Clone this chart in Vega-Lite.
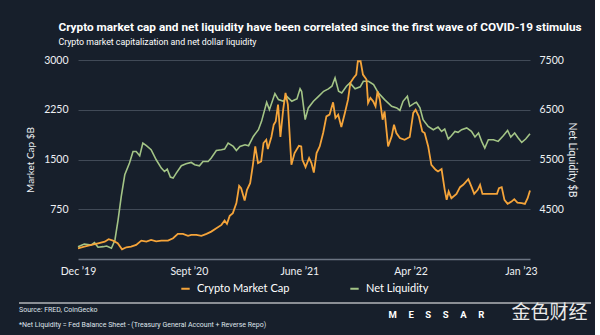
{
  "$schema": "https://vega.github.io/schema/vega-lite/v6.json",
  "background": "#171f2b",
  "padding": {"left": 18, "right": 3, "top": 22, "bottom": 5},
  "spacing": 8,
  "title": {
    "text": "Crypto market cap and net liquidity have been correlated since the first wave of COVID-19 stimulus",
    "subtitle": "Crypto market capitalization and net dollar liquidity",
    "anchor": "start",
    "frame": "bounds",
    "dx": 40,
    "color": "#ffffff",
    "subtitleColor": "#ffffff",
    "font": "Roboto",
    "fontSize": 11.8,
    "fontWeight": "bold",
    "subtitleFont": "Roboto",
    "subtitleFontSize": 8.8,
    "subtitlePadding": 4,
    "offset": 8
  },
  "resolve": {"scale": {"color": "independent"}, "legend": {"color": "independent"}},
  "vconcat": [
    {
      "width": 452,
      "height": 199,
      "data": {
        "values": [
          {"d": "2019-12-01", "s": "Net Liquidity", "v": 3748},
          {"d": "2019-12-17", "s": "Net Liquidity", "v": 3802},
          {"d": "2020-01-04", "s": "Net Liquidity", "v": 3782},
          {"d": "2020-01-12", "s": "Net Liquidity", "v": 3828},
          {"d": "2020-01-21", "s": "Net Liquidity", "v": 3736},
          {"d": "2020-02-03", "s": "Net Liquidity", "v": 3748},
          {"d": "2020-02-12", "s": "Net Liquidity", "v": 3762},
          {"d": "2020-02-24", "s": "Net Liquidity", "v": 3716},
          {"d": "2020-03-04", "s": "Net Liquidity", "v": 3883},
          {"d": "2020-03-12", "s": "Net Liquidity", "v": 4286},
          {"d": "2020-03-20", "s": "Net Liquidity", "v": 4755},
          {"d": "2020-03-29", "s": "Net Liquidity", "v": 5193},
          {"d": "2020-04-10", "s": "Net Liquidity", "v": 5428},
          {"d": "2020-04-19", "s": "Net Liquidity", "v": 5662},
          {"d": "2020-04-27", "s": "Net Liquidity", "v": 5662},
          {"d": "2020-05-06", "s": "Net Liquidity", "v": 5575},
          {"d": "2020-05-14", "s": "Net Liquidity", "v": 5831},
          {"d": "2020-05-23", "s": "Net Liquidity", "v": 5777},
          {"d": "2020-06-04", "s": "Net Liquidity", "v": 5696},
          {"d": "2020-06-17", "s": "Net Liquidity", "v": 5495},
          {"d": "2020-06-30", "s": "Net Liquidity", "v": 5328},
          {"d": "2020-07-08", "s": "Net Liquidity", "v": 5259},
          {"d": "2020-07-15", "s": "Net Liquidity", "v": 5307},
          {"d": "2020-07-23", "s": "Net Liquidity", "v": 5146},
          {"d": "2020-07-30", "s": "Net Liquidity", "v": 5126},
          {"d": "2020-08-07", "s": "Net Liquidity", "v": 5227},
          {"d": "2020-08-20", "s": "Net Liquidity", "v": 5374},
          {"d": "2020-09-01", "s": "Net Liquidity", "v": 5414},
          {"d": "2020-09-14", "s": "Net Liquidity", "v": 5440},
          {"d": "2020-09-23", "s": "Net Liquidity", "v": 5394},
          {"d": "2020-10-05", "s": "Net Liquidity", "v": 5374},
          {"d": "2020-10-14", "s": "Net Liquidity", "v": 5461},
          {"d": "2020-10-27", "s": "Net Liquidity", "v": 5461},
          {"d": "2020-11-04", "s": "Net Liquidity", "v": 5529},
          {"d": "2020-11-17", "s": "Net Liquidity", "v": 5682},
          {"d": "2020-11-30", "s": "Net Liquidity", "v": 5696},
          {"d": "2020-12-08", "s": "Net Liquidity", "v": 5710},
          {"d": "2020-12-17", "s": "Net Liquidity", "v": 5831},
          {"d": "2020-12-30", "s": "Net Liquidity", "v": 5763},
          {"d": "2021-01-07", "s": "Net Liquidity", "v": 5682},
          {"d": "2021-01-16", "s": "Net Liquidity", "v": 5763},
          {"d": "2021-01-29", "s": "Net Liquidity", "v": 5797},
          {"d": "2021-02-07", "s": "Net Liquidity", "v": 5777},
          {"d": "2021-02-19", "s": "Net Liquidity", "v": 5964},
          {"d": "2021-03-04", "s": "Net Liquidity", "v": 6099},
          {"d": "2021-03-12", "s": "Net Liquidity", "v": 6267},
          {"d": "2021-03-25", "s": "Net Liquidity", "v": 6649},
          {"d": "2021-04-01", "s": "Net Liquidity", "v": 6502},
          {"d": "2021-04-15", "s": "Net Liquidity", "v": 6825},
          {"d": "2021-04-24", "s": "Net Liquidity", "v": 6704},
          {"d": "2021-05-07", "s": "Net Liquidity", "v": 6670},
          {"d": "2021-05-15", "s": "Net Liquidity", "v": 6770},
          {"d": "2021-05-28", "s": "Net Liquidity", "v": 6670},
          {"d": "2021-06-06", "s": "Net Liquidity", "v": 6704},
          {"d": "2021-06-10", "s": "Net Liquidity", "v": 6718},
          {"d": "2021-06-18", "s": "Net Liquidity", "v": 6920},
          {"d": "2021-06-22", "s": "Net Liquidity", "v": 6865},
          {"d": "2021-07-01", "s": "Net Liquidity", "v": 6301},
          {"d": "2021-07-09", "s": "Net Liquidity", "v": 6537},
          {"d": "2021-07-22", "s": "Net Liquidity", "v": 6670},
          {"d": "2021-08-04", "s": "Net Liquidity", "v": 6770},
          {"d": "2021-08-17", "s": "Net Liquidity", "v": 6871},
          {"d": "2021-08-29", "s": "Net Liquidity", "v": 6920},
          {"d": "2021-09-07", "s": "Net Liquidity", "v": 6972},
          {"d": "2021-09-15", "s": "Net Liquidity", "v": 7141},
          {"d": "2021-09-24", "s": "Net Liquidity", "v": 6871},
          {"d": "2021-10-02", "s": "Net Liquidity", "v": 6839},
          {"d": "2021-10-14", "s": "Net Liquidity", "v": 6972},
          {"d": "2021-10-23", "s": "Net Liquidity", "v": 7040},
          {"d": "2021-11-05", "s": "Net Liquidity", "v": 6920},
          {"d": "2021-11-18", "s": "Net Liquidity", "v": 6960},
          {"d": "2021-11-26", "s": "Net Liquidity", "v": 7073},
          {"d": "2021-12-09", "s": "Net Liquidity", "v": 7073},
          {"d": "2021-12-22", "s": "Net Liquidity", "v": 7006},
          {"d": "2022-01-03", "s": "Net Liquidity", "v": 6839},
          {"d": "2022-01-19", "s": "Net Liquidity", "v": 6704},
          {"d": "2022-02-06", "s": "Net Liquidity", "v": 6569},
          {"d": "2022-02-19", "s": "Net Liquidity", "v": 6537},
          {"d": "2022-02-27", "s": "Net Liquidity", "v": 6488},
          {"d": "2022-03-07", "s": "Net Liquidity", "v": 6670},
          {"d": "2022-03-18", "s": "Net Liquidity", "v": 6770},
          {"d": "2022-03-24", "s": "Net Liquidity", "v": 6569},
          {"d": "2022-04-06", "s": "Net Liquidity", "v": 6637},
          {"d": "2022-04-10", "s": "Net Liquidity", "v": 6649},
          {"d": "2022-04-19", "s": "Net Liquidity", "v": 6537},
          {"d": "2022-04-27", "s": "Net Liquidity", "v": 6301},
          {"d": "2022-05-10", "s": "Net Liquidity", "v": 6166},
          {"d": "2022-05-23", "s": "Net Liquidity", "v": 6099},
          {"d": "2022-06-04", "s": "Net Liquidity", "v": 6154},
          {"d": "2022-06-13", "s": "Net Liquidity", "v": 6065},
          {"d": "2022-06-21", "s": "Net Liquidity", "v": 6113},
          {"d": "2022-06-30", "s": "Net Liquidity", "v": 5912},
          {"d": "2022-07-08", "s": "Net Liquidity", "v": 5978},
          {"d": "2022-07-17", "s": "Net Liquidity", "v": 6065},
          {"d": "2022-07-25", "s": "Net Liquidity", "v": 6045},
          {"d": "2022-08-03", "s": "Net Liquidity", "v": 6099},
          {"d": "2022-08-16", "s": "Net Liquidity", "v": 6134},
          {"d": "2022-08-28", "s": "Net Liquidity", "v": 6065},
          {"d": "2022-09-06", "s": "Net Liquidity", "v": 5952},
          {"d": "2022-09-15", "s": "Net Liquidity", "v": 6033},
          {"d": "2022-09-23", "s": "Net Liquidity", "v": 5864},
          {"d": "2022-10-01", "s": "Net Liquidity", "v": 5731},
          {"d": "2022-10-10", "s": "Net Liquidity", "v": 5898},
          {"d": "2022-10-23", "s": "Net Liquidity", "v": 5898},
          {"d": "2022-11-04", "s": "Net Liquidity", "v": 5864},
          {"d": "2022-11-17", "s": "Net Liquidity", "v": 5978},
          {"d": "2022-11-28", "s": "Net Liquidity", "v": 6085},
          {"d": "2022-12-06", "s": "Net Liquidity", "v": 5952},
          {"d": "2022-12-16", "s": "Net Liquidity", "v": 6033},
          {"d": "2022-12-25", "s": "Net Liquidity", "v": 5932},
          {"d": "2023-01-03", "s": "Net Liquidity", "v": 5843},
          {"d": "2023-01-13", "s": "Net Liquidity", "v": 5912},
          {"d": "2023-01-24", "s": "Net Liquidity", "v": 6019},
          {"d": "2019-12-01", "s": "Crypto Market Cap", "v": 162},
          {"d": "2019-12-17", "s": "Crypto Market Cap", "v": 186},
          {"d": "2020-01-04", "s": "Crypto Market Cap", "v": 212},
          {"d": "2020-01-21", "s": "Crypto Market Cap", "v": 237},
          {"d": "2020-02-07", "s": "Crypto Market Cap", "v": 261},
          {"d": "2020-02-17", "s": "Crypto Market Cap", "v": 298},
          {"d": "2020-02-28", "s": "Crypto Market Cap", "v": 277},
          {"d": "2020-03-11", "s": "Crypto Market Cap", "v": 237},
          {"d": "2020-03-22", "s": "Crypto Market Cap", "v": 147},
          {"d": "2020-04-02", "s": "Crypto Market Cap", "v": 177},
          {"d": "2020-04-14", "s": "Crypto Market Cap", "v": 186},
          {"d": "2020-04-27", "s": "Crypto Market Cap", "v": 212},
          {"d": "2020-05-10", "s": "Crypto Market Cap", "v": 277},
          {"d": "2020-05-23", "s": "Crypto Market Cap", "v": 261},
          {"d": "2020-06-04", "s": "Crypto Market Cap", "v": 287},
          {"d": "2020-06-17", "s": "Crypto Market Cap", "v": 267},
          {"d": "2020-06-30", "s": "Crypto Market Cap", "v": 277},
          {"d": "2020-07-17", "s": "Crypto Market Cap", "v": 277},
          {"d": "2020-07-30", "s": "Crypto Market Cap", "v": 313},
          {"d": "2020-08-11", "s": "Crypto Market Cap", "v": 378},
          {"d": "2020-08-24", "s": "Crypto Market Cap", "v": 378},
          {"d": "2020-09-06", "s": "Crypto Market Cap", "v": 348},
          {"d": "2020-09-14", "s": "Crypto Market Cap", "v": 363},
          {"d": "2020-09-27", "s": "Crypto Market Cap", "v": 363},
          {"d": "2020-10-10", "s": "Crypto Market Cap", "v": 348},
          {"d": "2020-10-23", "s": "Crypto Market Cap", "v": 378},
          {"d": "2020-11-04", "s": "Crypto Market Cap", "v": 413},
          {"d": "2020-11-17", "s": "Crypto Market Cap", "v": 464},
          {"d": "2020-11-30", "s": "Crypto Market Cap", "v": 514},
          {"d": "2020-12-08", "s": "Crypto Market Cap", "v": 579},
          {"d": "2020-12-14", "s": "Crypto Market Cap", "v": 529},
          {"d": "2020-12-21", "s": "Crypto Market Cap", "v": 650},
          {"d": "2020-12-29", "s": "Crypto Market Cap", "v": 691},
          {"d": "2021-01-07", "s": "Crypto Market Cap", "v": 842},
          {"d": "2021-01-14", "s": "Crypto Market Cap", "v": 1103},
          {"d": "2021-01-19", "s": "Crypto Market Cap", "v": 1068},
          {"d": "2021-01-28", "s": "Crypto Market Cap", "v": 881},
          {"d": "2021-02-03", "s": "Crypto Market Cap", "v": 1043},
          {"d": "2021-02-11", "s": "Crypto Market Cap", "v": 1144},
          {"d": "2021-02-18", "s": "Crypto Market Cap", "v": 1420},
          {"d": "2021-02-24", "s": "Crypto Market Cap", "v": 1697},
          {"d": "2021-03-03", "s": "Crypto Market Cap", "v": 1446},
          {"d": "2021-03-11", "s": "Crypto Market Cap", "v": 1470},
          {"d": "2021-03-17", "s": "Crypto Market Cap", "v": 1748},
          {"d": "2021-03-24", "s": "Crypto Market Cap", "v": 1798},
          {"d": "2021-03-28", "s": "Crypto Market Cap", "v": 1658},
          {"d": "2021-04-06", "s": "Crypto Market Cap", "v": 1839},
          {"d": "2021-04-12", "s": "Crypto Market Cap", "v": 2025},
          {"d": "2021-04-17", "s": "Crypto Market Cap", "v": 2075},
          {"d": "2021-04-23", "s": "Crypto Market Cap", "v": 2327},
          {"d": "2021-04-29", "s": "Crypto Market Cap", "v": 1839},
          {"d": "2021-05-06", "s": "Crypto Market Cap", "v": 2251},
          {"d": "2021-05-12", "s": "Crypto Market Cap", "v": 2504},
          {"d": "2021-05-18", "s": "Crypto Market Cap", "v": 2327},
          {"d": "2021-05-27", "s": "Crypto Market Cap", "v": 1420},
          {"d": "2021-06-04", "s": "Crypto Market Cap", "v": 1597},
          {"d": "2021-06-15", "s": "Crypto Market Cap", "v": 1707},
          {"d": "2021-06-21", "s": "Crypto Market Cap", "v": 1697},
          {"d": "2021-06-24", "s": "Crypto Market Cap", "v": 1496},
          {"d": "2021-07-02", "s": "Crypto Market Cap", "v": 1386},
          {"d": "2021-07-11", "s": "Crypto Market Cap", "v": 1522},
          {"d": "2021-07-17", "s": "Crypto Market Cap", "v": 1446},
          {"d": "2021-07-23", "s": "Crypto Market Cap", "v": 1304},
          {"d": "2021-07-30", "s": "Crypto Market Cap", "v": 1597},
          {"d": "2021-08-07", "s": "Crypto Market Cap", "v": 1697},
          {"d": "2021-08-16", "s": "Crypto Market Cap", "v": 1908},
          {"d": "2021-08-24", "s": "Crypto Market Cap", "v": 2150},
          {"d": "2021-09-01", "s": "Crypto Market Cap", "v": 2176},
          {"d": "2021-09-10", "s": "Crypto Market Cap", "v": 2362},
          {"d": "2021-09-16", "s": "Crypto Market Cap", "v": 2126},
          {"d": "2021-09-23", "s": "Crypto Market Cap", "v": 2176},
          {"d": "2021-10-01", "s": "Crypto Market Cap", "v": 1990},
          {"d": "2021-10-10", "s": "Crypto Market Cap", "v": 2202},
          {"d": "2021-10-18", "s": "Crypto Market Cap", "v": 2402},
          {"d": "2021-10-24", "s": "Crypto Market Cap", "v": 2655},
          {"d": "2021-11-01", "s": "Crypto Market Cap", "v": 2730},
          {"d": "2021-11-08", "s": "Crypto Market Cap", "v": 2780},
          {"d": "2021-11-12", "s": "Crypto Market Cap", "v": 2981},
          {"d": "2021-11-19", "s": "Crypto Market Cap", "v": 2981},
          {"d": "2021-11-25", "s": "Crypto Market Cap", "v": 2780},
          {"d": "2021-12-04", "s": "Crypto Market Cap", "v": 2705},
          {"d": "2021-12-08", "s": "Crypto Market Cap", "v": 2353},
          {"d": "2021-12-14", "s": "Crypto Market Cap", "v": 2428},
          {"d": "2021-12-21", "s": "Crypto Market Cap", "v": 2377},
          {"d": "2021-12-27", "s": "Crypto Market Cap", "v": 2301},
          {"d": "2022-01-01", "s": "Crypto Market Cap", "v": 2528},
          {"d": "2022-01-07", "s": "Crypto Market Cap", "v": 2402},
          {"d": "2022-01-14", "s": "Crypto Market Cap", "v": 2100},
          {"d": "2022-01-19", "s": "Crypto Market Cap", "v": 2226},
          {"d": "2022-01-28", "s": "Crypto Market Cap", "v": 1697},
          {"d": "2022-02-06", "s": "Crypto Market Cap", "v": 1848},
          {"d": "2022-02-12", "s": "Crypto Market Cap", "v": 2025},
          {"d": "2022-02-18", "s": "Crypto Market Cap", "v": 1899},
          {"d": "2022-02-27", "s": "Crypto Market Cap", "v": 1824},
          {"d": "2022-03-11", "s": "Crypto Market Cap", "v": 1798},
          {"d": "2022-03-24", "s": "Crypto Market Cap", "v": 1839},
          {"d": "2022-04-02", "s": "Crypto Market Cap", "v": 2202},
          {"d": "2022-04-08", "s": "Crypto Market Cap", "v": 2251},
          {"d": "2022-04-16", "s": "Crypto Market Cap", "v": 2150},
          {"d": "2022-04-25", "s": "Crypto Market Cap", "v": 1924},
          {"d": "2022-05-01", "s": "Crypto Market Cap", "v": 1899},
          {"d": "2022-05-10", "s": "Crypto Market Cap", "v": 1697},
          {"d": "2022-05-18", "s": "Crypto Market Cap", "v": 1420},
          {"d": "2022-05-29", "s": "Crypto Market Cap", "v": 1345},
          {"d": "2022-06-04", "s": "Crypto Market Cap", "v": 1319},
          {"d": "2022-06-13", "s": "Crypto Market Cap", "v": 1355},
          {"d": "2022-06-21", "s": "Crypto Market Cap", "v": 1043},
          {"d": "2022-06-26", "s": "Crypto Market Cap", "v": 891},
          {"d": "2022-07-01", "s": "Crypto Market Cap", "v": 1017},
          {"d": "2022-07-08", "s": "Crypto Market Cap", "v": 917},
          {"d": "2022-07-21", "s": "Crypto Market Cap", "v": 982},
          {"d": "2022-07-30", "s": "Crypto Market Cap", "v": 1083},
          {"d": "2022-08-07", "s": "Crypto Market Cap", "v": 1118},
          {"d": "2022-08-20", "s": "Crypto Market Cap", "v": 1204},
          {"d": "2022-08-28", "s": "Crypto Market Cap", "v": 1092},
          {"d": "2022-09-04", "s": "Crypto Market Cap", "v": 982},
          {"d": "2022-09-13", "s": "Crypto Market Cap", "v": 1043},
          {"d": "2022-09-19", "s": "Crypto Market Cap", "v": 1118},
          {"d": "2022-09-25", "s": "Crypto Market Cap", "v": 982},
          {"d": "2022-10-06", "s": "Crypto Market Cap", "v": 982},
          {"d": "2022-10-19", "s": "Crypto Market Cap", "v": 982},
          {"d": "2022-11-01", "s": "Crypto Market Cap", "v": 982},
          {"d": "2022-11-06", "s": "Crypto Market Cap", "v": 1068},
          {"d": "2022-11-13", "s": "Crypto Market Cap", "v": 1083},
          {"d": "2022-11-20", "s": "Crypto Market Cap", "v": 891},
          {"d": "2022-11-28", "s": "Crypto Market Cap", "v": 831},
          {"d": "2022-12-08", "s": "Crypto Market Cap", "v": 866},
          {"d": "2022-12-15", "s": "Crypto Market Cap", "v": 902},
          {"d": "2022-12-23", "s": "Crypto Market Cap", "v": 851},
          {"d": "2023-01-03", "s": "Crypto Market Cap", "v": 842},
          {"d": "2023-01-11", "s": "Crypto Market Cap", "v": 831},
          {"d": "2023-01-18", "s": "Crypto Market Cap", "v": 917},
          {"d": "2023-01-24", "s": "Crypto Market Cap", "v": 1032}
        ]
      },
      "layer": [
        {
          "transform": [{"filter": "datum.s === 'Net Liquidity'"}],
          "mark": {"type": "line", "strokeWidth": 1.6},
          "encoding": {
            "x": {
              "field": "d", "type": "temporal",
              "axis": {
                "values": [
                  {"year": 2019, "month": 12, "date": 1},
                  {"year": 2020, "month": 9, "date": 8},
                  {"year": 2021, "month": 6, "date": 16},
                  {"year": 2022, "month": 3, "date": 26},
                  {"year": 2023, "month": 1, "date": 1}
                ],
                "labelExpr": "['Dec \u201919','Sept \u201920','June \u201921','Apr \u201922','Jan \u201923'][year(datum.value)-2019]",
                "title": null,
                "grid": false,
                "ticks": false,
                "domain": true,
                "domainColor": "#6b7482",
                "domainWidth": 1.5,
                "labelPadding": 7,
                "labelFlush": false
              }
            },
            "y": {
              "field": "v", "type": "quantitative",
              "scale": {"domain": [3500, 7500], "nice": false, "zero": false},
              "axis": {
                "orient": "right",
                "values": [4500, 5500, 6500, 7500],
                "format": "d",
                "title": "Net Liquidity $B",
                "titleFontSize": 10.5,
                "titlePadding": 3,
                "grid": false,
                "labelAlign": "left",
                "labelPadding": 9
              }
            },
            "color": {
              "field": "s", "type": "nominal",
              "scale": {"domain": ["Crypto Market Cap", "Net Liquidity"], "range": ["#f5a43a", "#a3c486"]},
              "legend": {"title": null, "orient": "bottom", "direction": "horizontal"}
            }
          }
        },
        {
          "transform": [{"filter": "datum.s === 'Crypto Market Cap'"}],
          "mark": {"type": "line", "strokeWidth": 1.8},
          "encoding": {
            "x": {"field": "d", "type": "temporal"},
            "y": {
              "field": "v", "type": "quantitative",
              "scale": {"domain": [0, 3000], "nice": false},
              "axis": {
                "orient": "left",
                "values": [750, 1500, 2250, 3000],
                "format": "d",
                "title": "Market Cap $B",
                "titleFontSize": 10,
                "grid": true,
                "labelPadding": 10
              }
            },
            "color": {"field": "s", "type": "nominal"}
          }
        }
      ],
      "resolve": {"scale": {"y": "independent"}}
    },
    {
      "width": 452,
      "height": 27,
      "data": {"values": [{}]},
      "layer": [
        {
          "mark": {"type": "rule", "color": "#ffffff", "strokeWidth": 1.2},
          "encoding": {
            "x": {"datum": -0.1305, "type": "quantitative", "scale": {"domain": [0, 1]}, "axis": null},
            "x2": {"datum": 1.135},
            "y": {"datum": 1, "type": "quantitative", "scale": {"domain": [0, 1]}, "axis": null}
          }
        },
        {
          "mark": {"type": "text", "color": "#dfe3ea", "font": "Roboto", "fontSize": 7, "align": "left", "baseline": "middle"},
          "encoding": {
            "x": {"datum": -0.1305, "type": "quantitative"},
            "y": {"datum": 0.74, "type": "quantitative"},
            "text": {"value": "Source: FRED, CoinGecko"}
          }
        },
        {
          "mark": {"type": "text", "color": "#dfe3ea", "font": "Roboto", "fontSize": 7, "align": "left", "baseline": "middle"},
          "encoding": {
            "x": {"datum": -0.1305, "type": "quantitative"},
            "y": {"datum": 0.185, "type": "quantitative"},
            "text": {"value": "*Net Liquidity = Fed Balance Sheet - (Treasury General Account + Reverse Repo)"}
          }
        },
        {
          "mark": {"type": "text", "color": "#ffffff", "font": "Roboto", "fontWeight": "bold", "fontSize": 9.5, "baseline": "middle"},
          "encoding": {
            "x": {"datum": 0.793, "type": "quantitative"},
            "y": {"datum": 0.574, "type": "quantitative"},
            "text": {"value": "M\u2003\u2009E\u2003\u2009S\u2003\u2009S\u2003\u2009A\u2003\u2009R"}
          }
        },
        {
          "mark": {"type": "text", "color": "#e9e9e9", "font": "Noto Sans CJK SC", "fontSize": 19, "baseline": "middle"},
          "encoding": {
            "x": {"datum": 1.043, "type": "quantitative"},
            "y": {"datum": 0.648, "type": "quantitative"},
            "text": {"value": "金色财经"}
          }
        }
      ]
    }
  ],
  "config": {
    "view": {"stroke": null},
    "font": "Lato",
    "axis": {
      "labelFont": "Lato",
      "labelFontSize": 10.5,
      "labelColor": "#eef0f3",
      "titleFont": "Lato",
      "titleFontSize": 10.5,
      "titleFontWeight": "normal",
      "titleColor": "#eef0f3",
      "titlePadding": 8,
      "ticks": false,
      "domain": false,
      "gridColor": "#414a57",
      "gridWidth": 1
    },
    "legend": {
      "labelFont": "Lato",
      "labelFontSize": 11,
      "labelColor": "#ffffff",
      "symbolType": "stroke",
      "symbolStrokeWidth": 2,
      "symbolSize": 70,
      "columnPadding": 56,
      "labelOffset": 6,
      "offset": 6,
      "layout": {"bottom": {"anchor": "middle"}}
    }
  }
}
